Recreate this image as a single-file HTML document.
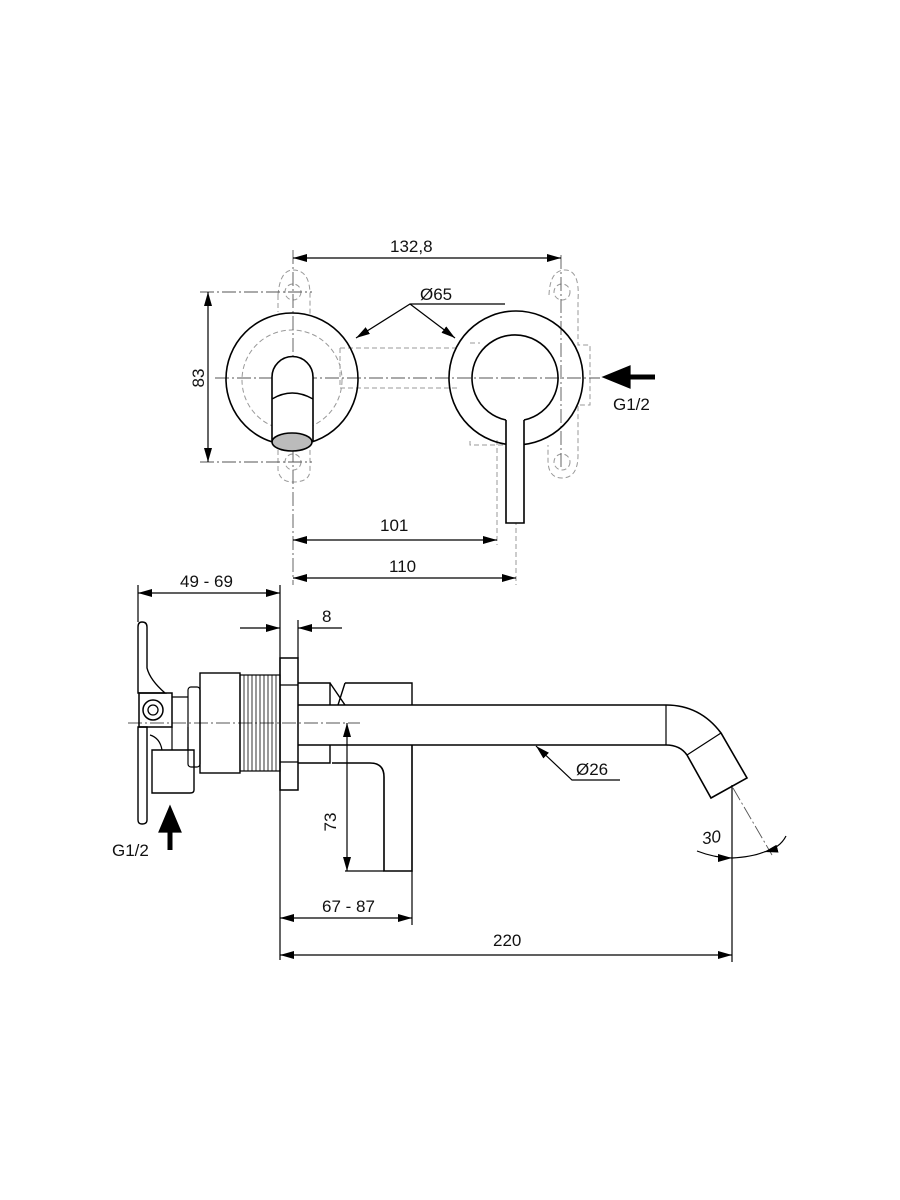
<!DOCTYPE html>
<html><head><meta charset="utf-8"><style>
body{margin:0;background:#fff}
svg{display:block}
text{font-family:"Liberation Sans",sans-serif;font-size:17px;fill:#111}
</style></head><body>
<svg width="900" height="1200" viewBox="0 0 900 1200">
<defs>
<marker id="a" markerWidth="14" markerHeight="8" refX="14" refY="4" orient="auto-start-reverse" markerUnits="userSpaceOnUse"><path d="M0,0 L14,4 L0,8z" fill="#000"/></marker>
</defs>
<g fill="none" stroke="#000" stroke-width="1.2">
<g stroke="#999" stroke-dasharray="5,3" stroke-width="1">
<path d="M278,295 Q280,270 293,270 Q310,270 310,295 L310,315"/>
<path d="M278,295 L278,312"/>
<circle cx="293" cy="292" r="8"/>
<circle cx="293" cy="462" r="8"/>
<path d="M278,450 L278,470 Q280,482 293,482 Q310,482 310,470 L310,450"/>
<circle cx="292" cy="380" r="50"/>
<path d="M340,348 L460,348 M340,388 L460,388 M340,348 L340,388"/>
<path d="M549,295 Q550,270 565,270 Q580,270 578,300 L578,345 L590,345 L590,405 L578,405 L578,455 Q578,478 562,478 Q548,478 548,460 L548,445"/>
<circle cx="562" cy="292" r="8"/>
<circle cx="562" cy="462" r="8"/>
<path d="M470,343 L480,343 M470,441 L470,445 L505,445"/>
<path d="M497,440 L497,545 M516,520 L516,585"/>
</g>
<g stroke="#555" stroke-width="0.9" stroke-dasharray="14,3,2,3">
<path d="M293,250 L293,585 M561,255 L561,470 M215,378 L600,378 M200,292 L312,292 M200,462 L312,462"/>
<path d="M128,723 L360,723"/>
<path d="M733,788 L772,855"/>
</g>
<circle cx="292" cy="379" r="66" stroke-width="1.6" fill="none"/>
<circle cx="516" cy="378" r="67" stroke-width="1.6"/>
<path d="M506,420 A43,43 0 1 1 524,420" stroke-width="1.6"/>
<path d="M506,420 L506,523 L524,523 L524,420" stroke-width="1.6" fill="#fff"/>
<path d="M272,442 L272,377 A20.5,20.5 0 0 1 313,377 L313,442" stroke-width="1.6" fill="#fff"/>
<path d="M272,399 Q292,387 313,399" stroke-width="1.4"/>
<ellipse cx="292" cy="442" rx="20" ry="9" fill="#bbb" stroke-width="1.6"/>
<path d="M293,258 L561,258" marker-start="url(#a)" marker-end="url(#a)"/>
<path d="M208,292 L208,462" marker-start="url(#a)" marker-end="url(#a)"/>
<path d="M505,304 L410,304 L356,338" marker-end="url(#a)"/>
<path d="M410,304 L455,338" marker-end="url(#a)"/>
<path d="M293,540 L497,540" marker-start="url(#a)" marker-end="url(#a)"/>
<path d="M293,578 L516,578" marker-start="url(#a)" marker-end="url(#a)"/>
<path d="M655,377 L625,377" stroke-width="5"/>
<path d="M603,377 L630,366 L630,388z" fill="#000"/>
<path d="M138,593 L280,593" marker-start="url(#a)" marker-end="url(#a)"/>
<path d="M138,585 L138,622 M280,585 L280,960 M298,620 L298,658"/>
<path d="M240,628 L280,628" marker-end="url(#a)"/>
<path d="M342,628 L298,628" marker-end="url(#a)"/>
<path d="M138,627 Q138,622 142,622 Q147,622 147,627 L147,668 Q150,680 165,693 L138,693 Z" stroke-width="1.4"/>
<path d="M138,727 L147,727 L147,820 Q147,824 142,824 Q138,824 138,820 Z" stroke-width="1.4"/>
<path d="M150,735 Q160,738 162,750" />
<path d="M152,750 L194,750 L194,790 Q194,793 190,793 L152,793 Z" stroke-width="1.4"/>
<rect x="139" y="693" width="33" height="34" stroke-width="1.5"/>
<circle cx="153" cy="710" r="10" stroke-width="1.5"/>
<circle cx="153" cy="710" r="5" stroke-width="1.3"/>
<path d="M172,697 L188,697 M172,727 L172,750 M188,727 L188,750"/>
<rect x="188" y="687" width="12" height="80" rx="3"/>
<rect x="200" y="673" width="40" height="100" stroke-width="1.4"/>
<rect x="240" y="675" width="40" height="96"/>
<g stroke-width="0.8"><path d="M244,675V771M248,675V771M252,675V771M256,675V771M260,675V771M264,675V771M268,675V771M272,675V771M276,675V771"/></g>
<rect x="280" y="658" width="18" height="132" stroke-width="1.5"/>
<path d="M280,685 L298,685 M280,762 L298,762"/>
<path d="M298,705 L666,705 Q700,705 721,733 L747,778 L711,798 L687,755 Q680,745 666,745 L298,745" stroke-width="1.6"/>
<path d="M666,705 L666,745 M687,755 L721,733"/>
<path d="M298,683 L330,683 L330,705 M330,683 L345,705 M345,683 L412,683 L412,705 M345,683 L338,705" stroke-width="1.4"/>
<path d="M298,763 L330,763 L330,745" stroke-width="1.4"/>
<path d="M332,763 L370,763 Q384,763 384,777 L384,871 L412,871 L412,745" stroke-width="1.6"/>
<path d="M347,723 L347,871" marker-start="url(#a)" marker-end="url(#a)"/>
<path d="M345,871 L384,871"/>
<path d="M280,918 L412,918" marker-start="url(#a)" marker-end="url(#a)"/>
<path d="M412,871 L412,925 M732,785 L732,962"/>
<path d="M280,955 L732,955" marker-start="url(#a)" marker-end="url(#a)"/>
<path d="M620,780 L572,780 L536,746" marker-end="url(#a)"/>
<path d="M697,851 Q715,858 732,858" marker-end="url(#a)"/>
<path d="M786,836 Q780,848 764,852" marker-end="url(#a)"/>
<path d="M732,858 Q752,857 764,852"/>
<path d="M170,850 L170,825" stroke-width="5"/>
<path d="M170,806 L159,832 L181,832z" fill="#000"/>
</g>
<text x="390" y="252">132,8</text>
<text x="420" y="300">Ø65</text>
<text x="613" y="410">G1/2</text>
<text x="198" y="384" transform="rotate(-90 198 378)" text-anchor="middle">83</text>
<text x="380" y="531">101</text>
<text x="389" y="572">110</text>
<text x="180" y="587">49 - 69</text>
<text x="322" y="622">8</text>
<text x="576" y="775">Ø26</text>
<text x="342" y="828" transform="rotate(-90 336 828)" text-anchor="middle">73</text>
<text x="702" y="843" transform="rotate(-8 712 838)" font-style="italic">30</text>
<text x="322" y="912">67 - 87</text>
<text x="493" y="946">220</text>
<text x="112" y="856">G1/2</text>
</svg>
</body></html>
